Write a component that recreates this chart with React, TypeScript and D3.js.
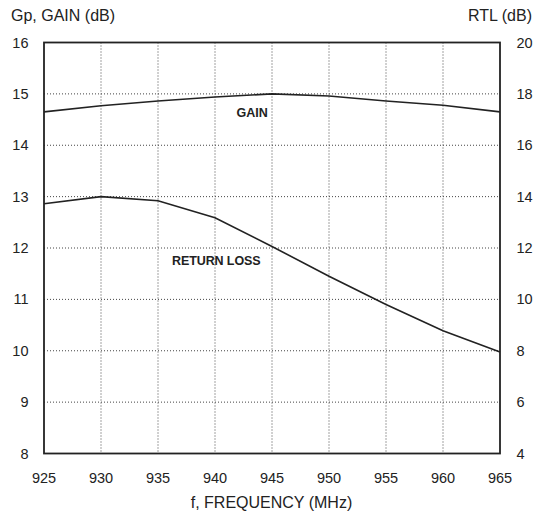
import React from "react";
import * as d3 from "d3";

const freqs = [925, 930, 935, 940, 945, 950, 955, 960, 965];
const gain = [14.65, 14.77, 14.86, 14.94, 15.0, 14.96, 14.86, 14.78, 14.65];
const returnLoss = [13.72, 14.0, 13.84, 13.18, 12.06, 10.9, 9.8, 8.78, 7.95];
const leftTicks = [8, 9, 10, 11, 12, 13, 14, 15, 16];
const rightTicks = [4, 6, 8, 10, 12, 14, 16, 18, 20];

const W = 542, H = 517;
const L = 44, R = 500, T = 42.5, B = 453.5;
const font = "'Liberation Sans', Arial, Helvetica, sans-serif";

export default function App() {
  const x = d3.scaleLinear().domain([925, 965]).range([L, R]);
  const yL = d3.scaleLinear().domain([8, 16]).range([B, T]);
  const yR = d3.scaleLinear().domain([4, 20]).range([B, T]);
  const lineG = d3.line<number>().x((_, i) => x(freqs[i])).y((d) => yL(d));
  const lineR = d3.line<number>().x((_, i) => x(freqs[i])).y((d) => yR(d));
  const ink = "#222";
  return (
    <svg width={W} height={H} style={{ position: "absolute", left: 0, top: 0 }}>
      <rect x={0} y={0} width={W} height={H} fill="#fff" />
      {freqs.slice(1, -1).map((f) => (
        <line key={"v" + f} x1={x(f)} x2={x(f)} y1={T} y2={B} stroke="#444" strokeWidth={1} strokeDasharray="1,2" />
      ))}
      {leftTicks.slice(1, -1).map((v) => (
        <line key={"h" + v} x1={L} x2={R} y1={yL(v)} y2={yL(v)} stroke="#444" strokeWidth={1} strokeDasharray="1,2" />
      ))}
      <path d={lineG(gain) || ""} fill="none" stroke={ink} strokeWidth={1.6} />
      <path d={lineR(returnLoss) || ""} fill="none" stroke={ink} strokeWidth={1.6} />
      <rect x={L} y={T} width={R - L} height={B - T} fill="none" stroke={ink} strokeWidth={1.8} />
      {leftTicks.map((v) => (
        <text key={"l" + v} x={28.5} y={yL(v)} textAnchor="end" dominantBaseline="central" fontFamily={font} fontSize={14.5} fill={ink}>{v}</text>
      ))}
      {rightTicks.map((v) => (
        <text key={"r" + v} x={516.5} y={yR(v)} textAnchor="start" dominantBaseline="central" fontFamily={font} fontSize={14.5} fill={ink}>{v}</text>
      ))}
      {freqs.map((f) => (
        <text key={"x" + f} x={x(f)} y={483} textAnchor="middle" fontFamily={font} fontSize={14.5} fill={ink}>{f}</text>
      ))}
      <text x={11} y={21} fontFamily={font} fontSize={16} fill={ink}>Gp, GAIN (dB)</text>
      <text x={532} y={21} textAnchor="end" fontFamily={font} fontSize={16} fill={ink}>RTL (dB)</text>
      <text x={271.5} y={508} textAnchor="middle" fontFamily={font} fontSize={16} fill={ink}>f, FREQUENCY (MHz)</text>
      <text x={236.5} y={117} fontFamily={font} fontSize={12.5} fontWeight="bold" fill={ink}>GAIN</text>
      <text x={172} y={265} fontFamily={font} fontSize={12.5} fontWeight="bold" fill={ink} letterSpacing={-0.1}>RETURN LOSS</text>
    </svg>
  );
}
